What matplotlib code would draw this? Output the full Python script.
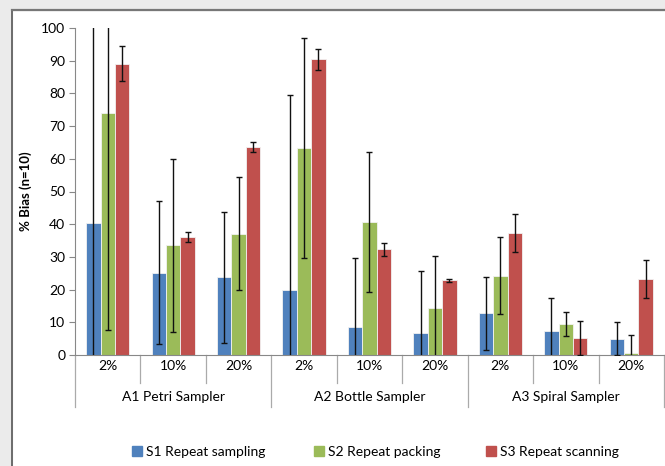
import numpy as np
import matplotlib.pyplot as plt
from matplotlib.patches import Rectangle
from matplotlib.lines import Line2D

# ---------- données ----------
groups = ["A1 Petri Sampler", "A2 Bottle Sampler", "A3 Spiral Sampler"]
levels = ["2%", "10%", "20%"]
series = ["S1 Repeat sampling", "S2 Repeat packing", "S3 Repeat scanning"]

s1_vals = [40.4, 25.2, 23.8, 19.8, 8.7, 6.8, 12.7, 7.2, 5.0]
s1_err = [65.0, 21.8, 20.0, 59.8, 20.9, 19.0, 11.1, 10.3, 5.0]
s2_vals = [74.0, 33.5, 37.1, 63.3, 40.7, 14.4, 24.3, 9.5, 0.5]
s2_err = [66.5, 26.5, 17.3, 33.7, 21.5, 16.0, 11.8, 3.8, 5.5]
s3_vals = [89.1, 36.0, 63.6, 90.4, 32.3, 22.8, 37.3, 5.2, 23.2]
s3_err = [5.3, 1.5, 1.4, 3.1, 1.9, 0.5, 5.9, 5.1, 5.9]
# ---------------------------------------------------

COLORS = ["#4F81BD", "#9BBB59", "#C0504D"]
LEGEND_X = [132, 314, 486]  # position des entrées de légende (px)
plt.rcParams["font.family"] = ["Lato", "DejaVu Sans"]

fig = plt.figure(figsize=(6.65, 4.66), dpi=100)
fig.patch.set_facecolor("white")
ax = fig.add_axes([75 / 665, 1 - 355 / 466, 589 / 665, 327 / 466])

# cadre gris de la capture Excel
fig.patches.append(Rectangle((0, 0), 12 / 665, 1, transform=fig.transFigure,
                             color="#ebebeb", zorder=-5))
fig.patches.append(Rectangle((0, 1 - 10 / 466), 1, 10 / 466, transform=fig.transFigure,
                             color="#ebebeb", zorder=-5))
fig.lines.append(Line2D([12 / 665, 12 / 665], [0, 1 - 10 / 466], transform=fig.transFigure,
                        color="#555555", lw=1.2))
fig.lines.append(Line2D([12 / 665, 1], [1 - 10 / 466, 1 - 10 / 466], transform=fig.transFigure,
                        color="#777777", lw=1.6))

n = len(groups) * len(levels)
x = np.arange(n)
w = 0.22
all_vals = [s1_vals, s2_vals, s3_vals]
all_err = [s1_err, s2_err, s3_err]
for i, (vals, err) in enumerate(zip(all_vals, all_err)):
    ax.bar(x + (i - 1) * w, vals, w, color=COLORS[i], edgecolor="#f2f2f2",
           linewidth=0.6, label=series[i], zorder=2)
    ax.errorbar(x + (i - 1) * w, vals, yerr=err, fmt="none", ecolor="#111111",
                elinewidth=1.0, capsize=2.5, capthick=1.0, zorder=3)

ax.set_xlim(-0.5, n - 0.5)
ax.set_ylim(0, 100)
ax.set_yticks(range(0, 101, 10))
ax.tick_params(axis="y", labelsize=10, length=4, color="#888888", pad=3)
ax.set_xticks([])
for side in ["top", "right"]:
    ax.spines[side].set_visible(False)
ax.spines["left"].set_color("#888888")
ax.spines["bottom"].set_color("#888888")
ax.set_ylabel("% Bias (n=10)", fontsize=9.5, fontweight="bold")
ax.yaxis.set_label_coords((32 - 75) / 589, 0.5)

# axe des catégories à deux niveaux
trans = ax.get_xaxis_transform()
for k in range(n + 1):
    edge = k - 0.5
    y_end = -0.159 if k % 3 == 0 else -0.086
    ax.plot([edge, edge], [0, y_end], transform=trans, color="#aaaaaa",
            lw=0.9, clip_on=False)
for k in range(n):
    ax.text(k, -0.034, levels[k % 3], transform=trans, ha="center", va="center",
            fontsize=10)
for g, name in enumerate(groups):
    ax.text(g * 3 + 1, -0.128, name, transform=trans, ha="center", va="center",
            fontsize=10)

# légende : une entrée par série, placée comme dans Excel
for c, name, lx in zip(COLORS, series, LEGEND_X):
    leg = fig.legend([Rectangle((0, 0), 1, 1, color=c)], [name], loc="center left",
                     bbox_to_anchor=(lx / 665, 1 - 452 / 466), frameon=False,
                     fontsize=10, handlelength=0.7, handleheight=0.7,
                     handletextpad=0.3, borderpad=0, borderaxespad=0)

fig.savefig("out.png", dpi=100)
